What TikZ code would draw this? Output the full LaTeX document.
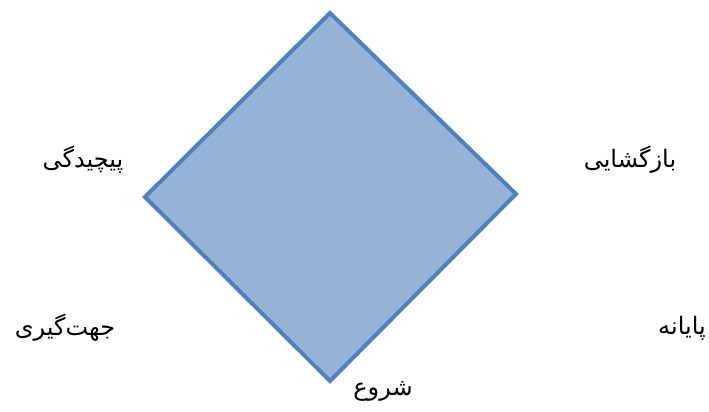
\documentclass[tikz,border=0pt]{standalone}
\usepackage{fontspec}
\newfontfamily\arabicfont[Script=Arabic]{DejaVu Sans}
\TeXXeTstate=1
\definecolor{dfill}{HTML}{95B3D7}
\definecolor{dline}{HTML}{4F81BD}
\begin{document}
\begin{tikzpicture}[x=1pt,y=-1pt,
  lbl/.style={inner sep=0pt,font=\arabicfont\fontsize{24}{28}\selectfont}]
\useasboundingbox (0,0) rectangle (709,412);
\coordinate (t) at (330,13);
\coordinate (r) at (516,194);
\coordinate (b) at (330,381);
\coordinate (l) at (145,197);
\draw[line width=4pt, draw=dline, fill=dfill, line join=miter] (t) -- (r) -- (b) -- (l) -- cycle;
\node[lbl] (n1) at (83,160) {\beginR پیچیدگی\endR};
\node[lbl] (n2) at (630,160) {\beginR بازگشایی\endR};
\node[lbl] (n3) at (65,328) {\beginR جهت‌گیری\endR};
\node[lbl] (n4) at (682,328) {\beginR پایانه\endR};
\node[lbl] (n5) at (383,391) {\beginR شروع\endR};
\end{tikzpicture}
\end{document}
